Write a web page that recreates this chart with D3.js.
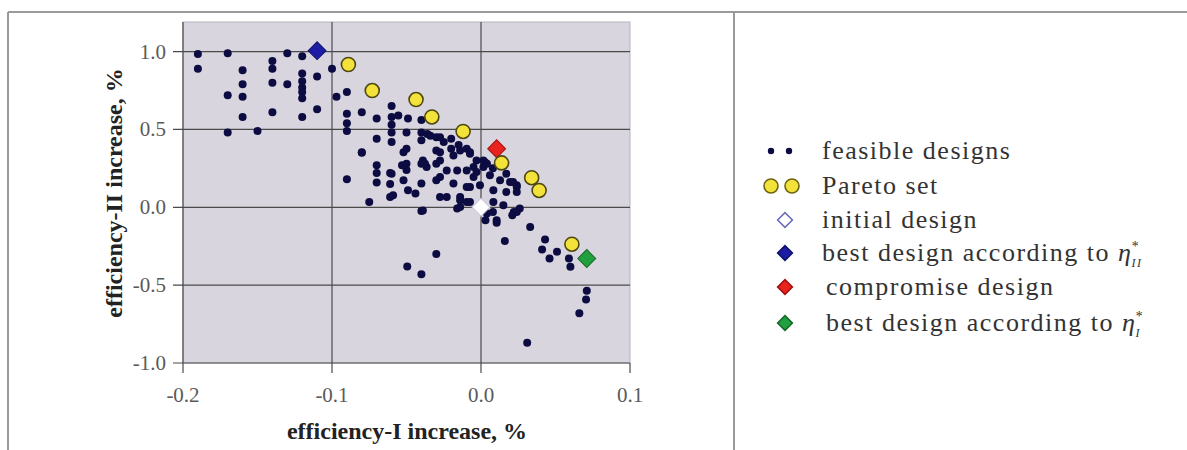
<!DOCTYPE html>
<html>
<head>
<meta charset="utf-8">
<style>
	body { margin: 0; background: #fff; }
	svg { display: block; font-family: "Liberation Serif", "DejaVu Serif", serif; }
</style>
</head>
<body>
<svg width="1187" height="450"></svg>
<script src="https://cdn.jsdelivr.net/npm/d3@7"></script>
<script>

// feasible designs, [efficiency-I increase, efficiency-II increase] in %
var feasible = [
	[-0.190,0.985],[-0.190,0.89],[-0.170,0.99],[-0.160,0.88],[-0.160,0.79],[-0.170,0.72],[-0.160,0.71],
	[-0.160,0.58],[-0.170,0.48],[-0.150,0.49],[-0.140,0.94],[-0.140,0.89],[-0.140,0.80],[-0.140,0.61],
	[-0.130,0.99],[-0.130,0.79],[-0.120,0.97],[-0.120,0.86],[-0.120,0.81],[-0.120,0.77],[-0.120,0.74],
	[-0.120,0.70],[-0.120,0.58],[-0.110,0.84],[-0.110,0.63],[-0.100,0.89],[-0.097,0.71],[-0.090,0.74],
	[-0.090,0.60],[-0.090,0.54],[-0.090,0.49],[-0.080,0.61],[-0.070,0.57],[-0.080,0.35],[-0.070,0.44],
	[-0.070,0.27],[-0.070,0.22],[-0.070,0.16],[-0.090,0.18],[-0.075,0.034],[-0.061,0.066],[-0.060,0.65],
	[-0.060,0.58],[-0.060,0.53],[-0.060,0.48],[-0.060,0.42],[-0.061,0.22],[-0.061,0.15],[-0.0555,0.59],
	[-0.049,0.57],[-0.050,0.48],[-0.050,0.376],[-0.040,0.56],[-0.040,0.48],[-0.040,0.43],[-0.034,0.46],
	[-0.030,0.45],[-0.025,0.42],[-0.020,0.44],[-0.015,0.40],[-0.0096,0.376],[-0.0074,0.344],[-0.050,0.28],
	[-0.050,0.24],[-0.060,0.216],[-0.039,0.30],[-0.0365,0.258],[-0.0275,0.30],[-0.023,0.237],[-0.016,0.237],
	[-0.005,0.258],[0.0016,0.30],[-0.0185,0.333],[-0.030,0.365],[-0.080,0.354],[-0.052,0.354],[-0.0275,0.354],
	[-0.059,0.077],[-0.053,0.27],[-0.052,0.173],[-0.049,0.109],[-0.044,0.088],[-0.040,0.152],[-0.040,0.28],
	[-0.040,-0.024],[-0.030,0.173],[-0.030,0.28],[-0.0185,0.152],[-0.0275,0.066],[-0.014,0.066],
	[-0.0096,0.034],[-0.0074,0.13],[-0.005,0.194],[-0.003,0.30],[0.0016,0.258],[0.003,-0.083],
	[-0.036,0.47],[-0.0275,0.45],[-0.020,0.376],[-0.014,0.365],[-0.0074,0.354],[0.0027,0.29],[-0.0376,0.28],
	[-0.0096,0.237],[-0.003,0.226],[0.006,0.205],[0.0128,0.173],[0.0195,0.162],[0.024,0.141],[-0.0275,0.194],
	[-0.0096,0.13],[-0.0007,0.141],[0.0083,0.109],[0.017,0.098],[0.024,0.098],[-0.023,0.066],[-0.014,0.045],
	[-0.0074,0.034],[0.0083,0.034],[0.015,0.013],[-0.016,-0.008],[-0.039,-0.02],[0.004,-0.04],[0.0105,-0.083],
	[0.022,-0.03],[0.026,-0.008],[0.033,-0.126],[0.004,0.28],[0.008,0.25],[0.0215,0.162],[0.024,0.13],
	[0.017,0.216],[-0.030,-0.30],[-0.0495,-0.38],[-0.040,-0.43],[0.016,-0.216],[0.043,-0.207],[0.041,-0.271],
	[0.046,-0.329],[0.051,-0.286],[0.059,-0.329],[0.060,-0.382],[0.071,-0.536],[0.0705,-0.592],[0.066,-0.68],
	[0.031,-0.87],[0.008,-0.03],[0.024,-0.03],[0.0105,-0.10],[0.021,-0.051],[-0.014,0.002]
]

var pareto = [
	[-0.089,0.917],[-0.073,0.75],[-0.0436,0.692],[-0.033,0.58],[-0.012,0.487],
	[0.0138,0.285],[0.034,0.19],[0.039,0.108],[0.061,-0.237]
]

var initialDesign = [0.0, 0.0]
var bestEtaII = [-0.110, 1.006]
var compromise = [0.0105, 0.376]
var bestEtaI = [0.071, -0.329]

var xTicks = [-0.2, -0.1, 0.0, 0.1]
var yTicks = [-1.0, -0.5, 0.0, 0.5, 1.0]

var legendLabels = ['feasible designs', 'Pareto set', 'initial design',
	'best design according to ', 'compromise design', 'best design according to ']

var svg = d3.select('svg')

// outer frame
svg.append('g')
	.attr('stroke', '#9a9a9a')
	.attr('stroke-width', 2)
	.selectAll('line')
	.data([[8,12,1187,12],[8,12,8,450],[734,12,734,450]])
	.enter().append('line')
	.attr('x1', function(d) { return d[0] })
	.attr('y1', function(d) { return d[1] })
	.attr('x2', function(d) { return d[2] })
	.attr('y2', function(d) { return d[3] })

var x = d3.scaleLinear().domain([-0.2, 0.1]).range([183, 630])
var y = d3.scaleLinear().domain([-1.0, 1.19]).range([363, 22])

// hyphen instead of unicode minus, like the original
var fmt = function(d) { return d3.format('.1f')(d).replace('\u2212', '-') }

// plot area
svg.append('rect')
	.attr('x', x(-0.2))
	.attr('y', y(1.19))
	.attr('width', x(0.1) - x(-0.2))
	.attr('height', y(-1.0) - y(1.19))
	.style('fill', '#d9d5de')
	.style('stroke', '#b8b4bc')
	.style('stroke-width', 1)

// gridlines
svg.append('g').selectAll('line')
	.data(yTicks)
	.enter().append('line')
	.attr('x1', x(-0.2) - 10).attr('x2', x(0.1))
	.attr('y1', function(d) { return y(d) }).attr('y2', function(d) { return y(d) })
	.style('stroke', '#4a4a4a').style('stroke-width', 1.2)

svg.append('g').selectAll('line')
	.data(xTicks.slice(0, 3))
	.enter().append('line')
	.attr('x1', function(d) { return x(d) }).attr('x2', function(d) { return x(d) })
	.attr('y1', y(1.19)).attr('y2', y(-1.0) + 10)
	.style('stroke', '#4a4a4a').style('stroke-width', 1.2)

svg.append('line')
	.attr('x1', x(0.1)).attr('x2', x(0.1))
	.attr('y1', y(-1.0)).attr('y2', y(-1.0) + 10)
	.style('stroke', '#4a4a4a').style('stroke-width', 1.2)

// tick labels
svg.append('g').selectAll('text')
	.data(yTicks)
	.enter().append('text')
	.attr('x', 166)
	.attr('y', function(d) { return y(d) + 7 })
	.attr('text-anchor', 'end')
	.style('font-size', '21px')
	.style('fill', '#5a5a5a')
	.text(fmt)

svg.append('g').selectAll('text')
	.data(xTicks)
	.enter().append('text')
	.attr('x', function(d) { return x(d) })
	.attr('y', 402)
	.attr('text-anchor', 'middle')
	.style('font-size', '21px')
	.style('fill', '#5a5a5a')
	.text(fmt)

// axis titles
svg.append('text')
	.attr('x', 407)
	.attr('y', 439)
	.attr('text-anchor', 'middle')
	.style('font-size', '24px')
	.style('font-weight', 'bold')
	.style('fill', '#222')
	.text('efficiency-I increase, %')

svg.append('text')
	.attr('transform', 'translate(122,193) rotate(-90)')
	.attr('text-anchor', 'middle')
	.style('font-size', '24px')
	.style('font-weight', 'bold')
	.style('fill', '#222')
	.text('efficiency-II increase, %')

var diamond = d3.symbol().type(d3.symbolSquare).size(160)

// marks
svg.append('g').selectAll('circle')
	.data(feasible)
	.enter().append('circle')
	.attr('cx', function(d) { return x(d[0]) })
	.attr('cy', function(d) { return y(d[1]) })
	.attr('r', 4)
	.style('fill', '#0c0c42')

svg.append('path')
	.datum(compromise)
	.attr('d', diamond)
	.attr('transform', function(d) { return 'translate(' + x(d[0]) + ',' + y(d[1]) + ') rotate(45)' })
	.style('fill', '#e8221c').style('stroke', '#a01010')

svg.append('g').selectAll('circle')
	.data(pareto)
	.enter().append('circle')
	.attr('cx', function(d) { return x(d[0]) })
	.attr('cy', function(d) { return y(d[1]) })
	.attr('r', 7)
	.style('fill', '#f2e23a')
	.style('stroke', '#4e4710')
	.style('stroke-width', 1.6)

var specials = [
	[initialDesign, '#ffffff', '#c8c4dc'],
	[bestEtaII, '#1c1ca4', '#10106a'],
	[bestEtaI, '#22a040', '#146828']
]

svg.append('g').selectAll('path')
	.data(specials)
	.enter().append('path')
	.attr('d', diamond)
	.attr('transform', function(d) { return 'translate(' + x(d[0][0]) + ',' + y(d[0][1]) + ') rotate(45)' })
	.style('fill', function(d) { return d[1] })
	.style('stroke', function(d) { return d[2] })

// legend
var rowY = [151, 186, 220, 253, 287, 323]
var legend = svg.append('g')

legend.selectAll('circle.feas')
	.data([771, 789])
	.enter().append('circle')
	.attr('cx', function(d) { return d })
	.attr('cy', rowY[0])
	.attr('r', 3.2)
	.style('fill', '#0c0c42')

legend.selectAll('circle.par')
	.data([771, 792])
	.enter().append('circle')
	.attr('cx', function(d) { return d })
	.attr('cy', rowY[1])
	.attr('r', 7)
	.style('fill', '#f2e23a')
	.style('stroke', '#6e6410')
	.style('stroke-width', 1.6)

var legendDiamonds = [
	[rowY[2], 'none', '#6a6ab8'],
	[rowY[3], '#1c1ca4', '#10106a'],
	[rowY[4], '#e8221c', '#a01010'],
	[rowY[5], '#22a040', '#146828']
]

legend.selectAll('path')
	.data(legendDiamonds)
	.enter().append('path')
	.attr('d', d3.symbol().type(d3.symbolSquare).size(110))
	.attr('transform', function(d) { return 'translate(785,' + d[0] + ') rotate(45)' })
	.style('fill', function(d) { return d[1] })
	.style('stroke', function(d) { return d[2] })
	.style('stroke-width', 1.5)

var labels = legend.selectAll('text')
	.data(legendLabels)
	.enter().append('text')
	.attr('x', function(d, i) { return i >= 4 ? 826 : 822 })
	.attr('y', function(d, i) { return rowY[i] + 8 })
	.style('font-size', '26px')
	.style('letter-spacing', '1.5px')
	.style('fill', '#333')
	.text(function(d) { return d })

// eta with star and subscript for rows 4 and 6
labels.filter(function(d, i) { return i == 3 || i == 5 })
	.each(function(d, i) {
		var t = d3.select(this)
		t.append('tspan').style('font-style', 'italic').style('letter-spacing', '0px').text('\u03B7')
		t.append('tspan').attr('dy', -10).style('font-size', '14px').style('font-style', 'italic').text('*')
		t.append('tspan').attr('dx', -8).attr('dy', 16).style('font-size', '12px')
			.style('font-style', 'italic').text(i == 0 ? 'II' : 'I')
	})

</script>
</body>
</html>
